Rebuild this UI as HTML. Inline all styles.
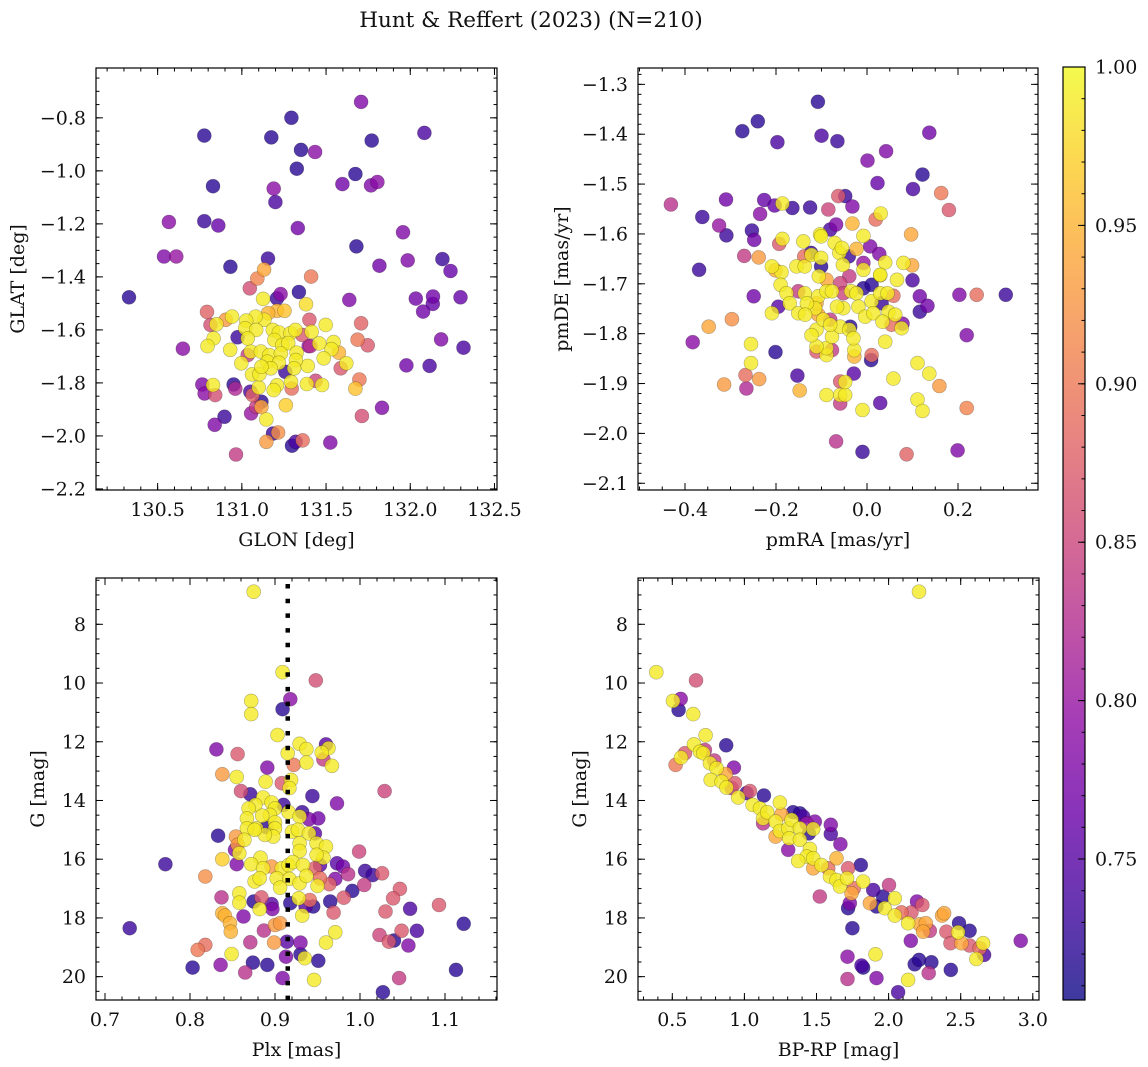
<!DOCTYPE html>
<html><head><meta charset="utf-8">
<style>
html,body{margin:0;padding:0;background:#fff;}
svg{display:block;font-family:"DejaVu Serif","Liberation Serif",serif;}
</style></head>
<body>
<svg id="fig" width="1148" height="1067" viewBox="0 0 1148 1067" xmlns="http://www.w3.org/2000/svg">
<text x="531" y="27" font-size="21.5" text-anchor="middle" fill="#111">Hunt &amp; Reffert (2023) (N=210)</text>
</svg>
<script>
// ---------- Panel 1: GLON vs GLAT ----------
const p1x=[131.708,131.294,130.777,131.175,132.084,131.771,131.351,131.435,131.326,131.674,131.597,131.767,131.805,130.829,131.189,131.199,130.567,130.777,130.860,131.332,131.957,131.680,130.538,130.611,131.155,130.932,131.817,131.985,132.191,132.239,130.330,131.132,131.092,131.411,131.047,131.339,131.230,131.638,132.033,132.135,132.134,132.298,132.076,130.793,132.183,132.316,130.650,131.977,132.115,131.708,131.687,131.747,131.401,131.381,131.498,131.545,131.532,131.576,131.620,131.486,131.587,131.698,131.674,131.391,131.386,131.476,131.438,131.397,131.832,131.713,131.525,131.298,131.361,131.320,131.146,131.215,131.185,130.965,130.839,130.897,131.261,131.116,131.145,131.086,131.116,131.055,131.050,131.064,130.765,130.779,130.842,130.829,130.951,130.961,131.296,131.209,131.292,131.100,131.189,130.814,130.849,130.904,130.942,130.832,130.796,130.931,130.975,130.997,131.060,131.104,131.126,131.209,131.253,131.156,131.134,131.081,131.026,131.020,131.085,131.184,131.220,131.288,131.318,131.358,131.414,131.193,131.240,131.275,131.053,131.113,131.163,131.232,131.325,131.321,131.152,131.220,131.310,131.172,131.258,131.116,131.035,131.035,131.407,131.459,131.209];
const p1y=[-0.740,-0.800,-0.867,-0.874,-0.857,-0.886,-0.921,-0.929,-0.992,-1.012,-1.050,-1.055,-1.042,-1.058,-1.067,-1.118,-1.193,-1.190,-1.206,-1.216,-1.232,-1.285,-1.323,-1.323,-1.331,-1.362,-1.358,-1.338,-1.333,-1.378,-1.477,-1.372,-1.406,-1.399,-1.443,-1.457,-1.465,-1.487,-1.482,-1.474,-1.502,-1.477,-1.531,-1.532,-1.636,-1.667,-1.671,-1.734,-1.736,-1.575,-1.637,-1.658,-1.562,-1.503,-1.581,-1.646,-1.673,-1.686,-1.726,-1.707,-1.745,-1.787,-1.822,-1.736,-1.804,-1.808,-1.792,-1.661,-1.894,-1.925,-2.025,-2.037,-2.017,-2.022,-2.022,-1.987,-1.991,-2.070,-1.958,-1.928,-1.884,-1.891,-1.938,-1.890,-1.871,-1.915,-1.833,-1.846,-1.806,-1.840,-1.846,-1.808,-1.806,-1.822,-1.821,-1.809,-1.796,-1.817,-1.827,-1.581,-1.579,-1.562,-1.550,-1.632,-1.661,-1.675,-1.628,-1.726,-1.768,-1.767,-1.483,-1.528,-1.528,-1.537,-1.562,-1.550,-1.565,-1.594,-1.600,-1.600,-1.610,-1.613,-1.600,-1.619,-1.607,-1.638,-1.657,-1.650,-1.682,-1.682,-1.695,-1.689,-1.686,-1.714,-1.720,-1.724,-1.745,-1.745,-1.758,-1.739,-1.695,-1.632,-1.661,-1.651,-1.481];
const p1c=[0.78,0.72,0.72,0.72,0.74,0.72,0.72,0.79,0.72,0.72,0.77,0.78,0.79,0.72,0.79,0.74,0.79,0.73,0.76,0.77,0.78,0.72,0.78,0.80,0.73,0.72,0.77,0.78,0.73,0.76,0.72,0.94,0.91,0.90,0.86,0.72,0.79,0.78,0.77,0.77,0.76,0.76,0.77,0.88,0.78,0.74,0.79,0.77,0.74,0.88,0.90,0.87,0.87,0.98,0.99,0.99,0.99,0.95,0.99,0.99,0.87,0.90,0.96,0.99,0.99,0.99,0.85,0.80,0.78,0.86,0.78,0.72,0.89,0.74,0.93,0.92,0.73,0.84,0.78,0.73,0.97,0.94,0.99,0.84,0.72,0.80,0.74,0.88,0.78,0.79,0.86,0.99,0.72,0.82,0.89,0.99,0.99,0.99,0.99,0.86,0.99,0.93,0.99,0.99,0.99,0.99,0.73,0.99,0.99,0.99,0.99,0.95,0.96,0.95,0.99,0.99,0.99,0.99,0.99,0.99,0.99,0.99,0.99,0.87,0.99,0.99,0.99,0.99,0.99,0.99,0.99,0.99,0.99,0.99,0.99,0.99,0.99,0.99,0.73,0.99,0.84,0.99,0.83,0.99,0.73];
const p1xTicks=[130.5,131.0,131.5,132.0,132.5];
const p1yTicks=[-0.8,-1.0,-1.2,-1.4,-1.6,-1.8,-2.0,-2.2];

// ---------- Panel 2: pmRA vs pmDE ----------
const p2x=[-0.108,-0.274,-0.240,-0.197,-0.100,-0.065,0.137,0.001,0.042,0.122,0.023,0.101,0.163,0.180,-0.431,-0.362,-0.310,-0.325,-0.309,-0.369,-0.383,-0.348,-0.314,-0.297,-0.270,-0.253,-0.248,-0.235,-0.226,-0.203,-0.186,-0.164,-0.125,-0.238,-0.249,-0.267,-0.265,-0.237,-0.255,-0.255,-0.201,-0.153,-0.148,-0.195,-0.209,-0.188,-0.193,-0.186,-0.209,-0.201,-0.190,-0.177,-0.170,-0.155,-0.137,-0.140,-0.151,-0.137,-0.151,-0.138,-0.123,-0.122,-0.101,-0.101,-0.106,-0.103,-0.101,-0.085,-0.063,-0.048,-0.032,-0.068,-0.081,-0.071,-0.061,-0.055,-0.053,-0.040,-0.032,-0.023,-0.008,0.007,0.027,0.040,-0.008,-0.008,0.029,0.030,0.019,0.080,0.097,0.099,0.066,0.100,0.116,0.133,0.116,0.203,0.241,0.305,0.219,0.159,0.219,0.111,0.137,0.111,0.122,0.058,0.029,-0.010,-0.010,-0.068,0.087,0.199,-0.059,-0.059,-0.059,-0.048,-0.048,-0.089,-0.029,-0.028,-0.028,0.009,0.010,0.040,-0.089,-0.089,-0.077,-0.111,-0.111,-0.111,-0.122,-0.077,-0.059,-0.039,-0.030,-0.037,-0.107,-0.107,-0.111,-0.089,-0.089,-0.077,-0.059,-0.052,-0.039,-0.035,-0.023,-0.008,-0.019,-0.004,0.010,0.010,0.029,0.014,0.032,0.029,0.045,0.058,0.047,0.034,0.054,0.076,0.078,0.062,-0.052,-0.066,-0.081,-0.096,-0.081,-0.114,-0.132,-0.136];
const p2y=[-1.335,-1.394,-1.374,-1.416,-1.403,-1.414,-1.397,-1.453,-1.434,-1.481,-1.498,-1.510,-1.518,-1.552,-1.541,-1.566,-1.531,-1.583,-1.603,-1.672,-1.817,-1.786,-1.902,-1.771,-1.644,-1.593,-1.612,-1.560,-1.532,-1.543,-1.539,-1.548,-1.547,-1.647,-1.725,-1.883,-1.910,-1.891,-1.821,-1.859,-1.837,-1.884,-1.914,-1.746,-1.759,-1.677,-1.620,-1.610,-1.665,-1.673,-1.702,-1.719,-1.739,-1.665,-1.665,-1.615,-1.759,-1.719,-1.715,-1.645,-1.638,-1.642,-1.648,-1.665,-1.685,-1.601,-1.605,-1.551,-1.524,-1.524,-1.545,-1.581,-1.591,-1.618,-1.638,-1.628,-1.662,-1.645,-1.579,-1.630,-1.604,-1.625,-1.640,-1.657,-1.672,-1.658,-1.683,-1.559,-1.571,-1.658,-1.601,-1.663,-1.692,-1.693,-1.725,-1.744,-1.756,-1.722,-1.722,-1.722,-1.803,-1.905,-1.949,-1.859,-1.880,-1.932,-1.955,-1.890,-1.939,-1.953,-2.037,-2.016,-2.042,-2.034,-1.940,-1.896,-1.923,-1.923,-1.897,-1.923,-1.880,-1.846,-1.833,-1.853,-1.843,-1.816,-1.843,-1.829,-1.833,-1.826,-1.836,-1.792,-1.803,-1.806,-1.786,-1.792,-1.809,-1.786,-1.725,-1.762,-1.739,-1.692,-1.715,-1.715,-1.699,-1.719,-1.685,-1.715,-1.719,-1.709,-1.746,-1.766,-1.702,-1.735,-1.682,-1.759,-1.739,-1.719,-1.719,-1.724,-1.756,-1.776,-1.782,-1.789,-1.780,-1.762,-1.749,-1.746,-1.772,-1.772,-1.782,-1.749,-1.739,-1.762];
const p2c=[0.72,0.72,0.72,0.74,0.74,0.73,0.77,0.78,0.78,0.72,0.76,0.74,0.90,0.87,0.83,0.73,0.77,0.80,0.73,0.73,0.79,0.94,0.93,0.92,0.84,0.73,0.77,0.79,0.76,0.76,0.99,0.73,0.73,0.93,0.77,0.89,0.82,0.93,0.99,0.99,0.72,0.74,0.95,0.75,0.99,0.99,0.87,0.99,0.99,0.95,0.99,0.99,0.99,0.99,0.99,0.99,0.99,0.99,0.84,0.89,0.73,0.99,0.99,0.72,0.99,0.99,0.99,0.85,0.87,0.73,0.78,0.78,0.74,0.99,0.99,0.99,0.99,0.73,0.95,0.95,0.99,0.78,0.78,0.99,0.99,0.80,0.99,0.99,0.89,0.99,0.94,0.94,0.99,0.74,0.77,0.77,0.73,0.78,0.89,0.73,0.78,0.93,0.91,0.99,0.99,0.99,0.99,0.99,0.75,0.99,0.73,0.83,0.88,0.78,0.84,0.87,0.99,0.99,0.99,0.99,0.75,0.95,0.99,0.72,0.89,0.99,0.99,0.99,0.84,0.99,0.87,0.99,0.99,0.99,0.99,0.99,0.99,0.72,0.99,0.94,0.94,0.94,0.99,0.99,0.85,0.85,0.84,0.99,0.99,0.72,0.99,0.99,0.72,0.99,0.99,0.99,0.73,0.99,0.99,0.89,0.99,0.99,0.89,0.99,0.78,0.99,0.99,0.99,0.84,0.99,0.99,0.99,0.99,0.99];
const p2xTicks=[-0.4,-0.2,0.0,0.2];
const p2yTicks=[-1.3,-1.4,-1.5,-1.6,-1.7,-1.8,-1.9,-2.0,-2.1];

// ---------- Panel 3: Plx vs G ----------
const p3x=[0.875,0.909,0.948,0.918,0.909,0.872,0.872,0.903,0.831,0.856,0.838,0.855,0.891,0.915,0.922,0.929,0.937,0.937,0.960,0.963,0.955,0.957,0.967,0.889,0.908,0.919,0.917,0.860,0.871,0.944,0.973,1.029,0.886,0.877,0.869,0.896,0.900,0.894,0.885,0.867,0.878,0.867,0.910,0.916,0.932,0.929,0.940,0.951,0.900,0.900,0.890,0.898,0.888,0.876,0.864,0.854,0.856,0.858,0.833,0.853,0.920,0.927,0.940,0.947,0.929,0.929,0.949,0.960,0.957,0.949,0.999,0.838,0.855,0.883,0.872,0.886,0.896,0.908,0.916,0.921,0.933,0.947,0.953,0.973,0.980,0.986,1.006,1.015,1.026,0.771,0.818,0.876,0.882,0.902,0.917,0.929,0.937,0.906,0.953,0.950,0.964,0.971,1.005,0.991,1.047,1.039,0.981,0.965,0.858,0.858,0.837,0.884,0.875,0.896,0.882,0.897,0.918,0.928,0.941,0.945,0.936,0.932,0.969,1.059,1.030,1.093,0.838,0.841,0.847,0.863,0.848,0.900,0.906,0.887,0.729,1.122,1.067,1.049,1.023,1.034,1.040,1.057,0.971,0.960,0.914,0.930,0.899,0.871,0.809,0.818,0.849,0.930,0.935,0.913,0.951,0.803,0.836,0.874,0.891,0.865,0.909,0.946,1.046,1.113,1.027];
const p3y=[6.89,9.63,9.91,10.55,10.89,10.61,11.06,11.77,12.26,12.42,13.11,13.20,12.88,12.39,12.79,12.07,12.25,12.71,12.09,12.22,12.37,12.60,12.82,13.36,13.41,13.30,13.58,13.68,13.79,13.85,14.10,13.68,13.90,14.15,14.27,14.07,14.27,14.49,14.52,14.61,14.95,14.95,14.15,14.40,14.40,14.55,14.64,14.61,14.75,14.95,14.91,15.23,15.17,15.00,15.34,15.23,15.51,15.80,15.20,15.68,15.06,15.00,15.12,15.12,15.46,15.72,15.46,15.57,15.95,15.85,15.74,16.00,16.17,15.95,16.17,16.31,16.25,16.31,16.20,16.10,16.20,16.31,16.20,16.14,16.25,16.51,16.40,16.54,16.48,16.17,16.59,16.76,16.65,16.65,16.67,16.82,16.57,16.97,16.65,16.91,16.85,16.67,16.88,17.08,17.01,17.33,17.31,17.44,17.16,17.48,17.30,17.30,17.44,17.53,17.70,17.70,17.50,17.33,17.39,17.61,17.61,17.92,17.82,17.69,17.78,17.56,17.84,17.92,18.18,17.95,18.47,18.24,18.18,18.43,18.35,18.20,18.44,18.44,18.58,18.81,18.77,18.94,18.49,18.84,18.81,18.84,18.84,18.83,19.09,18.92,19.23,19.24,19.37,19.32,19.46,19.69,19.60,19.52,19.60,19.86,20.05,20.11,20.05,19.77,20.53];
const p3c=[0.99,0.99,0.86,0.79,0.72,0.99,0.99,0.99,0.78,0.87,0.93,0.99,0.78,0.99,0.90,0.99,0.99,0.99,0.75,0.99,0.99,0.84,0.99,0.99,0.87,0.99,0.99,0.86,0.73,0.73,0.78,0.85,0.99,0.99,0.99,0.99,0.99,0.99,0.99,0.99,0.99,0.99,0.73,0.99,0.73,0.99,0.78,0.77,0.99,0.99,0.72,0.99,0.99,0.99,0.99,0.93,0.93,0.99,0.72,0.78,0.99,0.99,0.99,0.75,0.99,0.99,0.99,0.99,0.99,0.99,0.85,0.97,0.78,0.99,0.99,0.99,0.93,0.99,0.99,0.99,0.99,0.88,0.75,0.75,0.77,0.83,0.73,0.73,0.87,0.73,0.92,0.99,0.99,0.99,0.99,0.99,0.99,0.99,0.89,0.99,0.88,0.78,0.84,0.72,0.87,0.87,0.87,0.72,0.99,0.99,0.83,0.87,0.72,0.75,0.99,0.78,0.72,0.99,0.89,0.72,0.75,0.99,0.87,0.74,0.87,0.87,0.95,0.95,0.95,0.78,0.95,0.93,0.93,0.83,0.73,0.72,0.74,0.87,0.85,0.87,0.72,0.78,0.99,0.99,0.75,0.78,0.93,0.83,0.90,0.89,0.99,0.72,0.99,0.78,0.72,0.72,0.79,0.72,0.72,0.83,0.78,0.99,0.84,0.72,0.72];
const p3xTicks=[0.7,0.8,0.9,1.0,1.1];
const p3yTicks=[8,10,12,14,16,18,20];
const plxMean=[0.915];

// ---------- Panel 4: BP-RP vs G ----------
const p4x=[2.211,0.389,0.664,0.558,0.505,0.544,0.645,0.731,0.874,0.650,0.588,0.560,0.523,0.692,0.726,0.715,0.761,0.791,0.927,0.807,0.870,0.766,0.842,0.934,0.876,0.911,0.957,1.015,1.038,1.135,1.057,1.108,1.130,1.130,1.158,1.246,1.257,1.216,1.216,1.246,1.304,1.338,1.385,1.408,1.327,1.385,1.311,1.385,1.304,1.431,1.488,1.477,1.447,1.599,1.599,1.666,1.454,1.431,1.373,1.477,1.477,1.535,1.581,1.593,1.639,1.639,1.662,1.719,1.712,1.807,1.823,1.523,1.743,1.759,1.719,1.731,1.749,1.893,1.870,1.916,1.962,1.973,2.003,2.043,2.043,2.089,2.158,2.197,2.234,2.135,2.216,2.258,2.239,2.286,2.371,2.385,2.488,2.562,2.401,2.429,2.482,2.505,2.562,2.632,2.662,2.655,2.609,2.916,2.154,1.715,1.909,1.812,1.823,1.715,1.916,2.066,2.135,2.181,2.211,2.297,2.278,2.431];
const p4y=[6.89,9.63,9.91,10.54,10.61,10.92,11.06,11.78,12.12,12.09,12.39,12.54,12.79,12.34,12.28,12.39,12.73,12.64,12.88,12.90,13.10,13.30,13.36,13.41,13.56,13.58,13.90,13.75,13.68,13.83,14.15,14.27,14.61,14.78,14.40,14.07,14.47,14.72,15.23,15.04,14.95,14.40,14.44,14.55,14.66,14.95,15.29,15.34,15.68,14.78,14.72,14.97,15.12,14.83,15.14,15.49,15.65,15.91,16.06,15.97,16.31,16.20,16.31,16.59,15.97,16.71,16.93,16.31,16.65,16.20,16.76,17.27,17.16,16.99,17.67,17.50,18.35,17.05,17.50,17.61,17.27,17.67,16.88,17.33,17.92,17.81,17.81,17.44,17.56,18.18,18.22,18.18,18.47,18.44,17.92,17.84,18.18,18.44,18.47,18.86,18.49,18.86,18.94,19.03,19.26,18.86,19.40,18.78,18.78,19.32,19.24,19.62,19.69,20.08,20.05,20.53,20.11,19.58,19.43,19.51,19.88,19.77];
const p4c=[0.99,0.99,0.86,0.79,0.99,0.72,0.99,0.99,0.72,0.99,0.87,0.99,0.90,0.99,0.84,0.99,0.99,0.84,0.78,0.99,0.94,0.99,0.99,0.87,0.99,0.84,0.99,0.74,0.87,0.72,0.99,0.99,0.99,0.83,0.99,0.99,0.94,0.99,0.94,0.99,0.99,0.72,0.72,0.74,0.99,0.99,0.99,0.99,0.79,0.80,0.78,0.99,0.72,0.78,0.74,0.78,0.99,0.99,0.99,0.99,0.94,0.99,0.89,0.99,0.95,0.99,0.99,0.87,0.99,0.72,0.99,0.84,0.94,0.89,0.72,0.78,0.72,0.74,0.94,0.72,0.72,0.99,0.84,0.99,0.99,0.89,0.87,0.78,0.87,0.99,0.94,0.94,0.94,0.84,0.94,0.94,0.72,0.72,0.87,0.87,0.99,0.94,0.87,0.89,0.74,0.99,0.99,0.78,0.78,0.79,0.99,0.74,0.72,0.83,0.78,0.74,0.99,0.72,0.72,0.72,0.83,0.72];
const p4xTicks=[0.5,1.0,1.5,2.0,2.5,3.0];
const p4yTicks=[8,10,12,14,16,18,20];

// ---------- Colorbar ----------
const cbarTicks=[0.75,0.80,0.85,0.90,0.95,1.00];
const cbarDomain=[0.7055,1.0];

const NS="http://www.w3.org/2000/svg";
const svg=document.getElementById('fig');
function mk(tag,attrs,parent){const e=document.createElementNS(NS,tag);for(const k in attrs)e.setAttribute(k,attrs[k]);(parent||svg).appendChild(e);return e;}

const plasma=[[13,8,135],[65,4,157],[106,0,168],[143,13,164],[177,42,144],[204,71,120],[225,100,98],[242,132,75],[252,166,54],[252,206,37],[240,249,33]];
function cmap(v){let t=(v-cbarDomain[0])/(cbarDomain[1]-cbarDomain[0]);t=Math.max(0,Math.min(1,t));const f=t*10;const i=Math.min(9,Math.floor(f));const r=f-i;const a=plasma[i],b=plasma[i+1];return 'rgb('+a.map((x,k)=>Math.round(x+(b[k]-x)*r)).join(',')+')';}

function fmt(v,d){const s=Math.abs(v).toFixed(d);return (v<0?'\u2212':'')+s;}
const FS=19;

function makeAxes(cfg){
  const g=mk('g',{});
  
  
  const L=cfg.box[0],R=cfg.box[1],T=cfg.box[2],B=cfg.box[3];
  const sx=v=>L+(v-cfg.xd[0])/(cfg.xd[1]-cfg.xd[0])*(R-L);
  const sy=v=>T+(v-cfg.yd[0])/(cfg.yd[1]-cfg.yd[0])*(B-T);
  const clip=mk('clipPath',{id:'clip-'+cfg.name},g);
  mk('rect',{x:L,y:T,width:R-L,height:B-T},clip);
  const pg=mk('g',{'clip-path':'url(#clip-'+cfg.name+')'},g);
  
  
  const idx=cfg.px.map((_,i)=>i).sort((a,b)=>cfg.pc[a]-cfg.pc[b]);
  idx.forEach(i=>{
    const c=mk('circle',{cx:sx(cfg.px[i]).toFixed(1),cy:sy(cfg.py[i]).toFixed(1),r:7,fill:cmap(cfg.pc[i]),'fill-opacity':0.8,stroke:'rgba(0,0,0,0.3)','stroke-width':0.6},pg);
    
    
  });
  if(cfg.vline){
    const ln=mk('line',{x1:sx(cfg.vline[0]),x2:sx(cfg.vline[0]),y1:T+6,y2:B,stroke:'#000','stroke-width':4.5,'stroke-dasharray':'4.5 10.2'},g);
    
    
  }
  const fr=mk('rect',{x:L,y:T,width:R-L,height:B-T,fill:'none',stroke:'#000','stroke-width':1.2},g);
  
  
  const tk=mk('g',{stroke:'#000','stroke-width':1},g);
  const lo=Math.min(...cfg.xd),hi=Math.max(...cfg.xd);
  for(let k=Math.ceil(lo/cfg.xm-1e-6);k*cfg.xm<=hi+1e-9;k++){const x=sx(k*cfg.xm);mk('line',{x1:x,x2:x,y1:B,y2:B-3.5},tk);mk('line',{x1:x,x2:x,y1:T,y2:T+3.5},tk);}
  const ylo=Math.min(...cfg.yd),yhi=Math.max(...cfg.yd);
  for(let k=Math.ceil(ylo/cfg.ym-1e-6);k*cfg.ym<=yhi+1e-9;k++){const y=sy(k*cfg.ym);mk('line',{x1:L,x2:L+3.5,y1:y,y2:y},tk);mk('line',{x1:R,x2:R-3.5,y1:y,y2:y},tk);}
  cfg.xt.forEach(v=>{const x=sx(v);mk('line',{x1:x,x2:x,y1:B,y2:B-7},tk);mk('line',{x1:x,x2:x,y1:T,y2:T+7},tk);
    const t=mk('text',{x:x,y:B+26,'font-size':FS,'text-anchor':'middle',fill:'#111'},g);t.textContent=fmt(v,cfg.xdig);
    });
  cfg.yt.forEach(v=>{const y=sy(v);mk('line',{x1:L,x2:L+7,y1:y,y2:y},tk);mk('line',{x1:R,x2:R-7,y1:y,y2:y},tk);
    const t=mk('text',{x:L-10,y:y+6.5,'font-size':FS,'text-anchor':'end',fill:'#111'},g);t.textContent=fmt(v,cfg.ydig);
    });
  const xl=mk('text',{x:(L+R)/2,y:B+56,'font-size':FS,'text-anchor':'middle',fill:'#111'},g);xl.textContent=cfg.xlab;
  
  const yx=cfg.ylx,yc=(T+B)/2;
  const yl=mk('text',{x:yx,y:yc,'font-size':FS,'text-anchor':'middle',fill:'#111',transform:'rotate(-90 '+yx+' '+yc+')'},g);yl.textContent=cfg.ylab;
  
}

makeAxes({name:'glon-glat-panel',box:[96,497,68,490],xd:[130.134,132.515],yd:[-0.612,-2.204],px:p1x,py:p1y,pc:p1c,xt:p1xTicks,yt:p1yTicks,xm:0.1,ym:0.05,xdig:1,ydig:1,xlab:'GLON [deg]',ylab:'GLAT [deg]',ylx:24});
makeAxes({name:'pm-panel',box:[638,1038,68,490],xd:[-0.5033,0.3758],yd:[-1.2672,-2.1135],px:p2x,py:p2y,pc:p2c,xt:p2xTicks,yt:p2yTicks,xm:0.05,ym:0.02,xdig:1,ydig:1,xlab:'pmRA [mas/yr]',ylab:'pmDE [mas/yr]',ylx:568});
makeAxes({name:'plx-g-panel',box:[96,497,578,1000],xd:[0.68941,1.16118],yd:[6.4233,20.795],px:p3x,py:p3y,pc:p3c,xt:p3xTicks,yt:p3yTicks,xm:0.02,ym:0.5,xdig:1,ydig:0,xlab:'Plx [mas]',ylab:'G [mag]',ylx:44,vline:plxMean});
makeAxes({name:'cmd-panel',box:[638,1039,578,1000],xd:[0.2621,3.043],yd:[6.4233,20.795],px:p4x,py:p4y,pc:p4c,xt:p4xTicks,yt:p4yTicks,xm:0.1,ym:0.5,xdig:1,ydig:0,xlab:'BP-RP [mag]',ylab:'G [mag]',ylx:586});

(function(){
  const g=mk('g',{});
  
  
  const L=1063,R=1085,T=67,B=1000;
  const sy=v=>B-(v-cbarDomain[0])/(cbarDomain[1]-cbarDomain[0])*(B-T);
  const defs=mk('defs',{},g);
  const lg=mk('linearGradient',{id:'cbgrad',x1:0,y1:1,x2:0,y2:0},defs);
  plasma.forEach((c,i)=>mk('stop',{offset:(i/10),'stop-color':'rgb('+c.join(',')+')'},lg));
  mk('rect',{x:L,y:T,width:R-L,height:B-T,fill:'url(#cbgrad)','fill-opacity':0.8},g);
  mk('rect',{x:L,y:T,width:R-L,height:B-T,fill:'none',stroke:'#000','stroke-width':1.2},g);
  const tk=mk('g',{stroke:'#000','stroke-width':1},g);
  for(let k=71;k<=100;k++){const y=sy(k/100);mk('line',{x1:R,x2:R-3.5,y1:y,y2:y},tk);}
  cbarTicks.forEach(v=>{const y=sy(v);mk('line',{x1:R,x2:R-7,y1:y,y2:y},tk);
    const t=mk('text',{x:R+10,y:y+6.5,'font-size':FS,fill:'#111'},g);t.textContent=v.toFixed(2);
    });
})();
</script>
</body></html>
